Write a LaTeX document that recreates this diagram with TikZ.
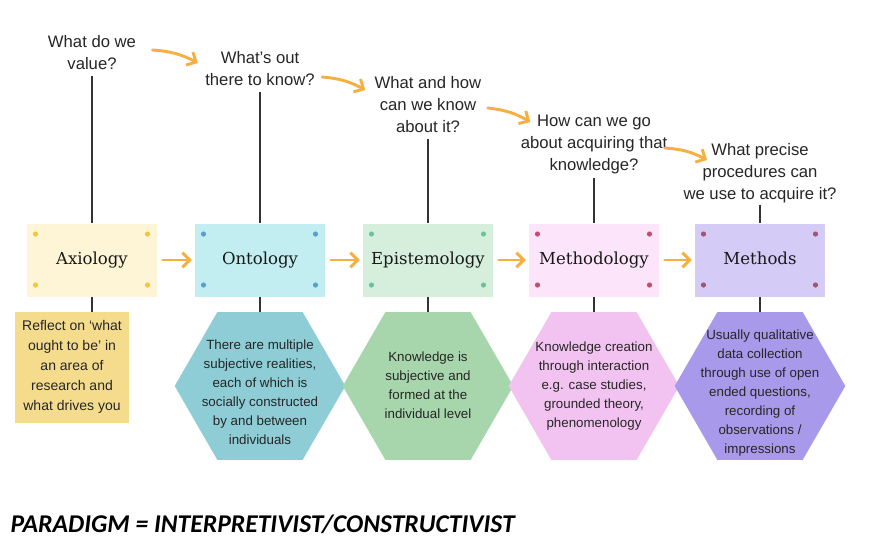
\documentclass[tikz,border=0pt]{standalone}
\usepackage{fontspec}
\setmainfont{Liberation Sans}
\newfontfamily\slabfont{DejaVu Serif}
\newfontfamily\paradigmfont{Carlito}
\usetikzlibrary{shapes.geometric,arrows.meta}

\definecolor{axiodot}{RGB}{240,201,58}
\definecolor{ontodot}{RGB}{91,159,203}
\definecolor{episdot}{RGB}{104,196,160}
\definecolor{methodot}{RGB}{194,79,107}
\definecolor{methsdot}{RGB}{160,86,110}

\tikzset{every picture/.style={line width=0.75pt}}
\tikzset{
  question/.style={align=center, inner sep=0pt, text=black!85, font=\fontsize{12.5}{16.5}\selectfont},
  titlebox/.style={minimum width=97.5pt, minimum height=54.75pt, inner sep=0pt, text height=9pt, text depth=3pt, text=black!90, font=\slabfont\fontsize{12.4}{14}\selectfont},
  hexa/.style={regular polygon, regular polygon sides=6, minimum size=128pt, inner sep=0pt},
  desctext/.style={align=center, inner sep=0pt, text=black!85, font=\fontsize{10}{14.25}\selectfont},
  stem/.style={draw=black!80, line width=1.4pt},
  flowarrow/.style={draw={rgb, 255:red, 246; green, 176; blue, 66 }, line width=2.2pt, line cap=round, -{Straight Barb[length=5.5pt,width=11pt]}},
}

\begin{document}
\begin{tikzpicture}[x=0.75pt,y=0.75pt,yscale=-1]
\useasboundingbox (0,0) rectangle (872,558);

% Questions
\node[question] (q1) at (92,53) {What do we\\value?};
\node[question] (q2) at (260,69) {What's out\\there to know?};
\node[question] (q3) at (428,105) {What and how\\can we know\\about it?};
\node[question] (q4) at (594,144) {How can we go\\about acquiring that\\knowledge?};
\node[question] (q5) at (760,173) {What precise\\procedures can\\we use to acquire it?};

% Title boxes
\node[titlebox, fill={rgb, 255:red, 253; green, 245; blue, 213 }] (axio) at (92,260) {Axiology};
\node[titlebox, fill={rgb, 255:red, 194; green, 238; blue, 242 }] (onto) at (260,260) {Ontology};
\node[titlebox, fill={rgb, 255:red, 214; green, 239; blue, 221 }] (epis) at (428,260) {Epistemology};
\node[titlebox, fill={rgb, 255:red, 252; green, 228; blue, 251 }] (metho) at (594,260) {Methodology};
\node[titlebox, fill={rgb, 255:red, 212; green, 203; blue, 247 }] (meths) at (760,260) {Methods};

% corner dots
\foreach \b/\c in {axio/axiodot, onto/ontodot, epis/episdot, metho/methodot, meths/methsdot}{
  \foreach \p in {(9,11),(121,11),(9,62),(121,62)}
    \fill[\c] ([shift={\p}]\b.north west) circle (2.6);
}

% Sticky note and hexagons
\node[minimum width=85.5pt, minimum height=83.25pt, inner sep=0pt, fill={rgb, 255:red, 244; green, 220; blue, 140 }] (axionote) at (72,367.5) {};
\node[hexa, fill={rgb, 255:red, 142; green, 205; blue, 214 }] (ontohex) at (260,386) {};
\node[hexa, fill={rgb, 255:red, 167; green, 214; blue, 172 }] (epishex) at (428,386) {};
\node[hexa, fill={rgb, 255:red, 242; green, 195; blue, 241 }] (methohex) at (594,386) {};
\node[hexa, fill={rgb, 255:red, 169; green, 153; blue, 234 }] (methshex) at (760,386) {};

% Text Node
\node[desctext, font=\fontsize{10.5}{15}\selectfont] (axiotext) at (72,367) {Reflect on `what\\ought to be' in\\an area of\\research and\\what drives you};
\node[desctext] (ontotext) at (260,392) {There are multiple\\subjective realities,\\each of which is\\socially constructed\\by and between\\individuals};
\node[desctext] (epistext) at (428,385) {Knowledge is\\subjective and\\formed at the\\individual level};
\node[desctext] (methotext) at (594,386) {Knowledge creation\\through interaction\\e.g. case studies,\\grounded theory,\\phenomenology};
\node[desctext] (methstext) at (760,393) {Usually qualitative\\data collection\\through use of open\\ended questions,\\recording of\\observations /\\impressions};

% Stems
\draw[stem, shorten <=4pt] (q1) -- (axio);
\draw[stem, shorten <=4pt] (q2) -- (onto);
\draw[stem, shorten <=4pt] (q3) -- (epis);
\draw[stem, shorten <=3pt] (q4) -- (metho);
\draw[stem, shorten <=1pt] (q5) -- (meths);
\draw[stem] (axio.south) -- (axio.south |- axionote.north);
\draw[stem] (onto) -- (ontohex);
\draw[stem] (epis) -- (epishex);
\draw[stem] (metho) -- (methohex);
\draw[stem] (meths) -- (methshex);

% Box arrows
\draw[flowarrow, shorten <=4pt, shorten >=2pt] (axio) -- (onto);
\draw[flowarrow, shorten <=4pt, shorten >=2pt] (onto) -- (epis);
\draw[flowarrow, shorten <=4pt, shorten >=2pt] (epis) -- (metho);
\draw[flowarrow, shorten <=4pt, shorten >=2pt] (metho) -- (meths);

% Question arrows
\draw[flowarrow] ([shift={(16,-3)}]q1.east) to[bend right=12] ([shift={(-7,-6)}]q2.west);
\draw[flowarrow] ([shift={(7,8)}]q2.east) to[bend right=12] ([shift={(-9,-15)}]q3.west);
\draw[flowarrow] ([shift={(6,3)}]q3.east) to[bend right=12] ([shift={(10,-22)}]q4.west);
\draw[flowarrow] ([shift={(-3,4)}]q4.east) to[bend right=12] ([shift={(24,-13)}]q5.west);

% Paradigm
\node[anchor=base west, inner sep=0pt, font=\paradigmfont\bfseries\itshape\fontsize{19.2}{22}\selectfont] (paradigm) at (10,532) {PARADIGM = INTERPRETIVIST/CONSTRUCTIVIST};

\end{tikzpicture}
\end{document}
